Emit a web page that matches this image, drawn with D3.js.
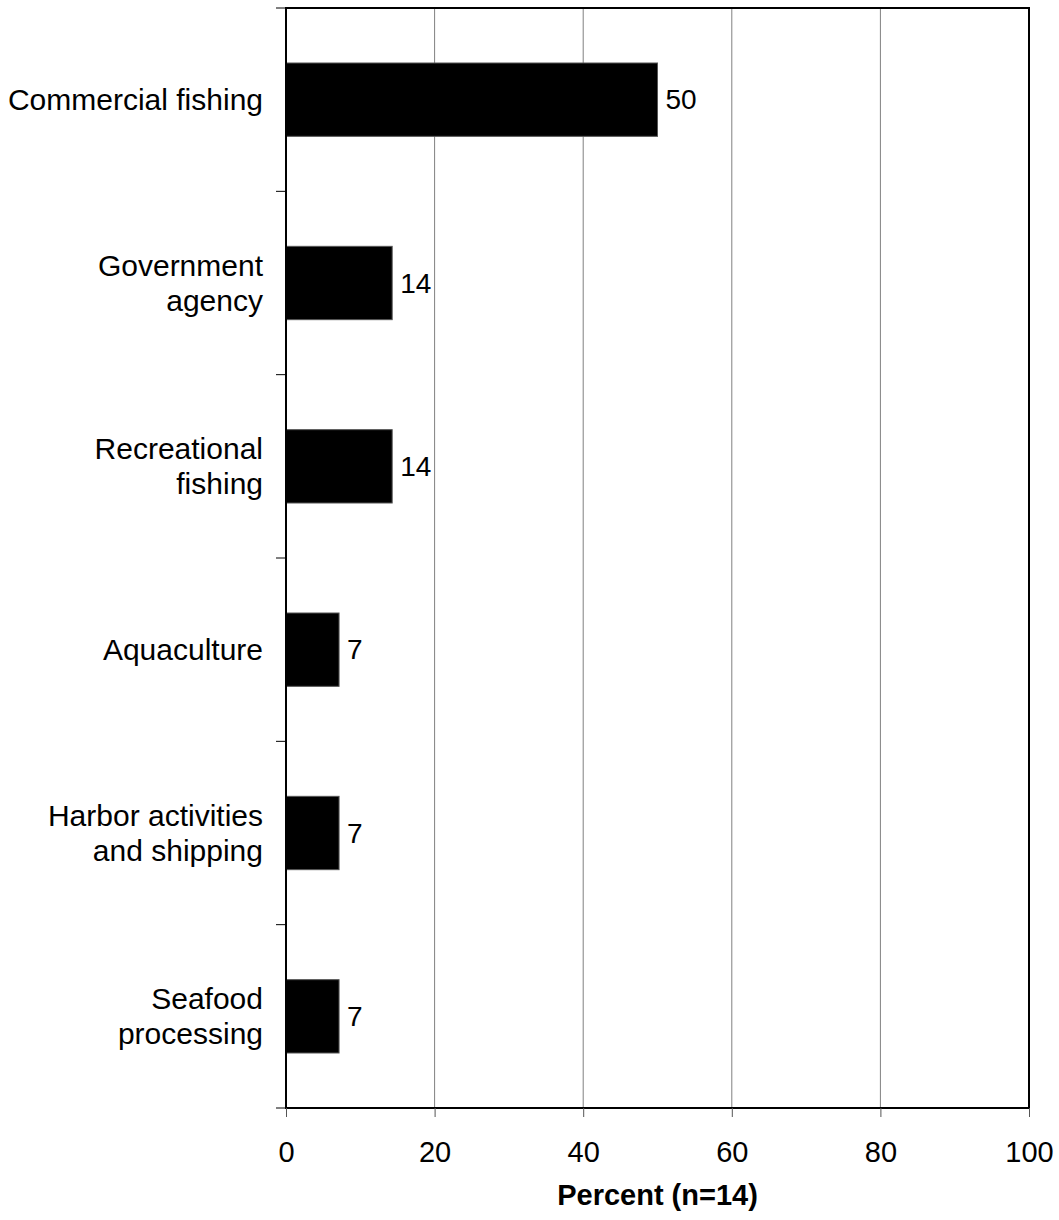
<!DOCTYPE html>
<html><head><meta charset="utf-8">
<script src="https://cdn.jsdelivr.net/npm/d3@7"></script>
<style>body{margin:0;background:#fff;} text{font-family:"Liberation Sans",Arial,sans-serif;}</style>
</head><body>
<svg id="c" width="1059" height="1220"></svg>
<script>
const categories = [["Commercial fishing"],["Government","agency"],["Recreational","fishing"],["Aquaculture"],["Harbor activities","and shipping"],["Seafood","processing"]];
const values = [50, 14.29, 14.29, 7.14, 7.14, 7.14];
const valueLabels = ["50","14","14","7","7","7"];
const xTicks = [0,20,40,60,80,100];

const svg = d3.select("#c");
const L=286, R=1029, T=8, B=1108;
const x = d3.scaleLinear().domain([0,100]).range([L,R]);
const y = d3.scaleBand().domain(d3.range(categories.length)).range([T,B]).paddingInner(0.6).paddingOuter(0.3);
const yb = d3.scaleBand().domain(d3.range(categories.length)).range([T,B]);

// grid
svg.append("g").selectAll("line").data(xTicks.slice(1,-1)).join("line")
  .attr("x1",d=>x(d)).attr("x2",d=>x(d)).attr("y1",T).attr("y2",B)
  .attr("stroke","#808080").attr("stroke-width",1);

// bars
svg.append("g").selectAll("rect").data(values).join("rect")
  .attr("x",x(0)).attr("y",(d,i)=>y(i)).attr("width",d=>x(d)-x(0)).attr("height",y.bandwidth())
  .attr("fill","#000").attr("stroke","#555").attr("stroke-width",1);

// value labels
svg.append("g").selectAll("text").data(values).join("text")
  .attr("x",d=>x(d)+8).attr("y",(d,i)=>y(i)+y.bandwidth()/2).attr("dy","0.35em")
  .attr("font-size",28).text((d,i)=>valueLabels[i]);

// frame
svg.append("rect").attr("x",L).attr("y",T).attr("width",R-L).attr("height",B-T)
  .attr("fill","none").attr("stroke","#000").attr("stroke-width",2);

// y ticks (band boundaries)
const yTickPos = d3.range(categories.length+1).map(i=> i<categories.length? yb(i): B);
svg.append("g").selectAll("line").data(yTickPos).join("line")
  .attr("x1",L-10).attr("x2",L).attr("y1",d=>d).attr("y2",d=>d)
  .attr("stroke","#000").attr("stroke-width",1);

// x axis
const xAxis = d3.axisBottom(x).tickValues(xTicks).tickSize(9);
const gx = svg.append("g").attr("transform",`translate(0,${B})`).call(xAxis);
gx.select(".domain").remove();
gx.selectAll(".tick line").attr("stroke","#555");
gx.selectAll(".tick text").attr("font-size",29).attr("fill","#000").attr("y",54).attr("dy",0)
  .attr("font-family","Liberation Sans, Arial, sans-serif");

// category labels
const lab = svg.append("g").selectAll("text").data(categories).join("text")
  .attr("text-anchor","end").attr("font-size",30).attr("fill","#000")
  .attr("transform",(d,i)=>`translate(${L-23},${yb(i)+yb.bandwidth()/2})`);
lab.each(function(lines){
  const t=d3.select(this); const n=lines.length; const lh=35;
  lines.forEach((s,k)=>t.append("tspan").attr("x",0).attr("y",(k-(n-1)/2)*lh).attr("dy","0.35em").text(s));
});

// axis title
svg.append("text").attr("x",(L+R)/2).attr("y",1205).attr("text-anchor","middle")
  .attr("font-size",29).attr("font-weight","bold").text("Percent (n=14)");
</script>
</body></html>
